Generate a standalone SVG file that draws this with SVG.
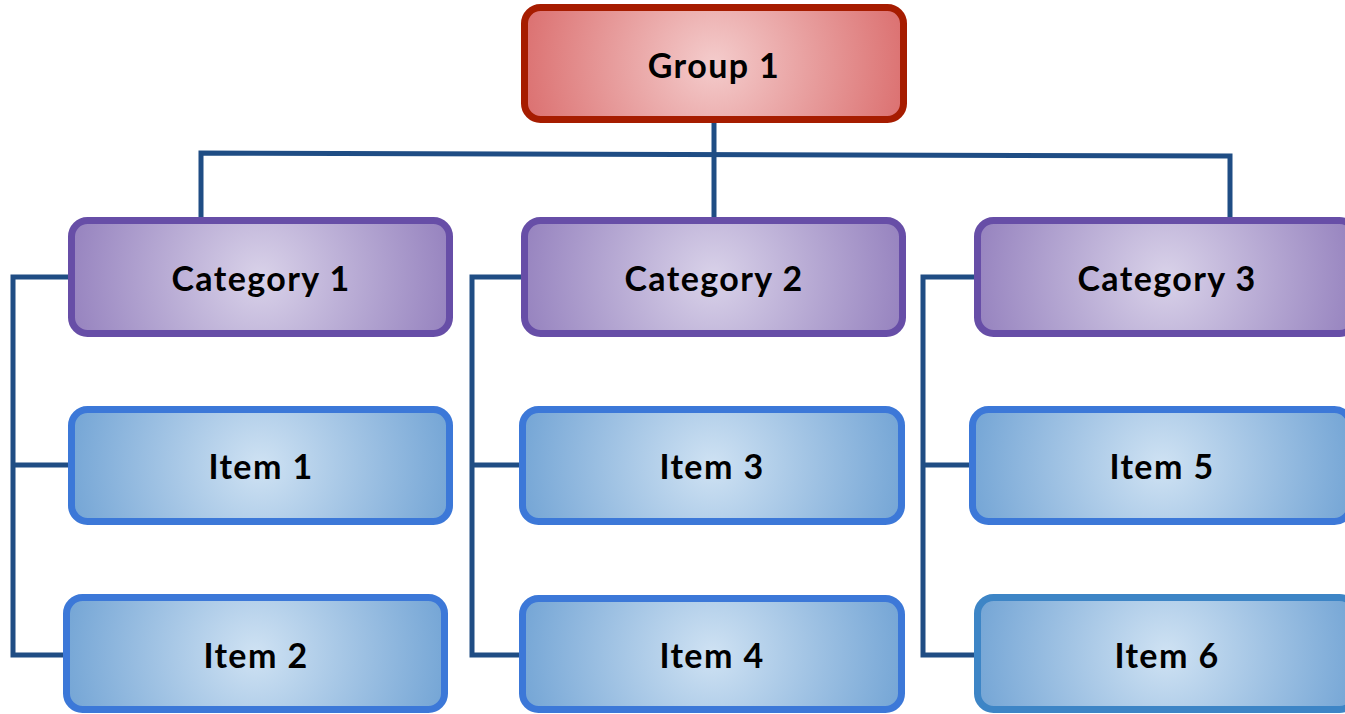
<svg xmlns="http://www.w3.org/2000/svg" width="1345" height="714" viewBox="0 0 1345 714">
<defs>
<radialGradient id="gRed" cx="0.5" cy="0.5" r="0.5" gradientTransform="translate(0.5 0.5) scale(1 3.3) translate(-0.5 -0.5)">
<stop offset="0" stop-color="#f4cccc"/><stop offset="1" stop-color="#dc7373"/>
</radialGradient>
<radialGradient id="gPur" cx="0.5" cy="0.5" r="0.5" gradientTransform="translate(0.5 0.5) scale(1 3.3) translate(-0.5 -0.5)">
<stop offset="0" stop-color="#d9d2e9"/><stop offset="1" stop-color="#9885c0"/>
</radialGradient>
<radialGradient id="gBlu" cx="0.5" cy="0.5" r="0.5" gradientTransform="translate(0.5 0.5) scale(1 3.3) translate(-0.5 -0.5)">
<stop offset="0" stop-color="#cfe2f3"/><stop offset="1" stop-color="#77a7d6"/>
</radialGradient>
</defs>
<style>
.box{stroke-width:7}
.grp{fill:url(#gRed);stroke:#a61c00}
.cat{fill:url(#gPur);stroke:#674ea7}
.itm{fill:url(#gBlu);stroke:#3c78d8}
.lbl{font-family:Lato,"Liberation Sans",sans-serif;font-weight:bold;font-size:34px;letter-spacing:1.4px;fill:#000;text-anchor:middle}
.con{fill:none;stroke:#1f4d84;stroke-width:5;stroke-linejoin:miter}
</style>
<g id="connectors">
<path class="con" d="M714 120 V220"/>
<path class="con" d="M201 218 V153 L1230 156 V218"/>
<path class="con" d="M70 277 H13 V655 H67 M13 465 H70"/>
<path class="con" d="M523 277 H472 V655 H521 M472 465 H521"/>
<path class="con" d="M976 277 H923 V655 H976 M923 465 H972"/>
</g>
<g id="group1"><rect class="box grp" x="524.5" y="7.5" width="379" height="112" rx="16"/><text class="lbl" x="714" y="78">Group 1</text></g>
<g id="category1"><rect class="box cat" x="71.5" y="220.5" width="378" height="113" rx="16"/><text class="lbl" x="261" y="291">Category 1</text></g>
<g id="category2"><rect class="box cat" x="524.5" y="220.5" width="378" height="113" rx="16"/><text class="lbl" x="714" y="291">Category 2</text></g>
<g id="category3"><rect class="box cat" x="977.5" y="220.5" width="378" height="113" rx="16"/><text class="lbl" x="1167" y="291">Category 3</text></g>
<g id="item1"><rect class="box itm" x="71.5" y="409.5" width="378" height="112" rx="16"/><text class="lbl" x="261" y="479">Item 1</text></g>
<g id="item3"><rect class="box itm" x="522.5" y="409.5" width="379" height="112" rx="16"/><text class="lbl" x="712" y="479">Item 3</text></g>
<g id="item5"><rect class="box itm" x="972.5" y="409.5" width="378" height="112" rx="16"/><text class="lbl" x="1162" y="479">Item 5</text></g>
<g id="item2"><rect class="box itm" x="66.5" y="597.5" width="378" height="112" rx="16"/><text class="lbl" x="256" y="668">Item 2</text></g>
<g id="item4"><rect class="box itm" x="522.5" y="598.5" width="379" height="111" rx="16"/><text class="lbl" x="712" y="668">Item 4</text></g>
<g id="item6"><rect class="box itm" x="977.5" y="597.5" width="378" height="112" rx="16" style="stroke:#3d85c6"/><text class="lbl" x="1167" y="668">Item 6</text></g>
</svg>
